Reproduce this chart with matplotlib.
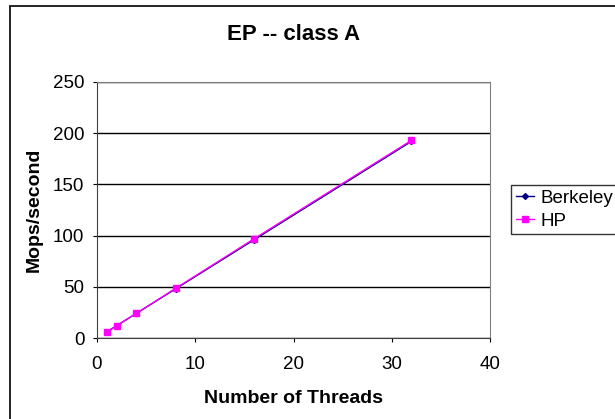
import matplotlib
matplotlib.use("Agg")
import matplotlib.pyplot as plt
from matplotlib.patches import Rectangle

threads = [1, 2, 4, 8, 16, 32]
berkeley = [6, 12, 24, 48, 96, 192]
hp = [6, 12, 24, 48.5, 97, 193]

plt.rcParams['font.family'] = ['Liberation Sans', 'DejaVu Sans']

W, H = 615, 419
fig = plt.figure(figsize=(W / 100, H / 100), dpi=100)

# outer chart border (runs off the right and bottom edges)
fig.patches.append(Rectangle((10 / W, -0.05), 1.0, 1 - 6 / H + 0.05,
                             transform=fig.transFigure, fill=False,
                             edgecolor='black', linewidth=1.2))

ax = fig.add_axes([97 / W, 1 - 338 / H, 393 / W, 256 / H])

ax.plot(threads, berkeley, color='#000080', marker='D', markersize=3,
        linewidth=1, label='Berkeley')
ax.plot(threads, hp, color='#FF00FF', marker='s', markersize=3.8,
        linewidth=1, label='HP')

ax.set_xlim(0, 40)
ax.set_ylim(0, 250)
ax.set_xticks([0, 10, 20, 30, 40])
ax.set_yticks([0, 50, 100, 150, 200, 250])
ax.tick_params(direction='out', length=3, labelsize=13.5)
ax.tick_params(axis='x', pad=10)
ax.tick_params(axis='y', pad=6)
ax.grid(axis='y', color='black', linewidth=1)
ax.set_axisbelow(True)

for s in ['top', 'right']:
    ax.spines[s].set_color('#808080')
for s in ['left', 'bottom']:
    ax.spines[s].set_color('#404040')

fig.text(293.5 / W, 1 - 34 / H, 'EP -- class A', fontsize=16,
         fontweight='bold', ha='center', va='center')
fig.text(293.5 / W, 1 - 398 / H, 'Number of Threads', fontsize=14,
         fontweight='bold', ha='center', va='center')
fig.text(34 / W, 1 - 210 / H, 'Mops/second', fontsize=14,
         fontweight='bold', ha='center', va='center', rotation=90)

leg = fig.legend(loc='upper left', bbox_to_anchor=(511 / W, 1 - 185 / H),
                 fontsize=13.5, frameon=True, fancybox=False, edgecolor='black',
                 borderpad=0.25, handlelength=1.0, handletextpad=0.35,
                 labelspacing=0.3, borderaxespad=0)
leg.get_frame().set_linewidth(1)

fig.savefig('out.png', dpi=100)
